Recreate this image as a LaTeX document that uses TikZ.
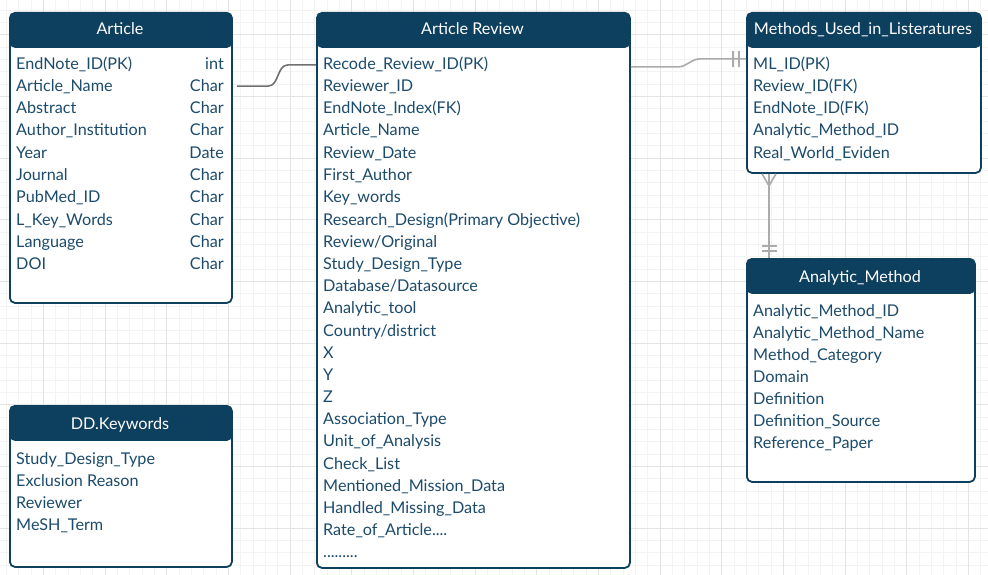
\documentclass[tikz,border=0pt]{standalone}
\usepackage{fontspec}
\setmainfont{Lato}
\usetikzlibrary{positioning,calc}
\definecolor{hdrblue}{HTML}{0D3F5F}
\definecolor{rowblue}{HTML}{1C4B6C}
\definecolor{gridmin}{HTML}{F3F3F3}
\definecolor{gridmaj}{HTML}{E4E4E4}
\definecolor{linkgray}{HTML}{707070}
\definecolor{softgray}{HTML}{ABABAB}

\begin{document}
\begin{tikzpicture}[x=1pt,y=-1pt,
tbl/.style={draw=hdrblue,line width=1.8pt,rounded corners=5pt,fill=white,
  anchor=north west,inner sep=0pt,
  path picture={\fill[hdrblue] (path picture bounding box.north west)
    rectangle ([yshift=-35pt]path picture bounding box.north east);}},
ttl/.style={anchor=base,inner sep=0pt,text=white,font=\fontsize{16.2pt}{19pt}\selectfont},
row/.style={anchor=base west,inner sep=0pt,text=rowblue,font=\fontsize{16.2pt}{19pt}\selectfont},
typ/.style={anchor=base east,inner sep=0pt,text=rowblue,font=\fontsize{16.2pt}{19pt}\selectfont},
link/.style={draw=linkgray,line width=1.6pt},
soft/.style={draw=softgray,line width=1.6pt}]
\useasboundingbox[fill=white] (0,0) rectangle (988,575);
% background grid
\begin{scope}[shift={(-18.15,34.75)}]
\draw[gridmin,line width=0.8pt,step=12.33pt] (-10,600) grid (1020,-40);
\draw[gridmaj,line width=0.9pt,step=61.65pt] (-10,600) grid (1020,-40);
\end{scope}

% Article
\node[tbl,minimum width=222pt,minimum height=290pt] (article) at (9,12) {};
\node[ttl] (articleT) at (120,35) {Article};
\node[row] (a1) at (16,70) {EndNote\_ID(PK)};
\node[row] (a2) at (16,92) {Article\_Name};
\node[row] (a3) at (16,114) {Abstract};
\node[row] (a4) at (16,136) {Author\_Institution};
\node[row] (a5) at (16,158) {Year};
\node[row] (a6) at (16,180) {Journal};
\node[row] (a7) at (16,202) {PubMed\_ID};
\node[row] (a8) at (16,225) {L\_Key\_Words};
\node[row] (a9) at (16,247) {Language};
\node[row] (a10) at (16,269) {DOI};
\node[typ] (a1t) at (224,70) {int};
\node[typ] (a2t) at (224,92) {Char};
\node[typ] (a3t) at (224,114) {Char};
\node[typ] (a4t) at (224,136) {Char};
\node[typ] (a5t) at (224,158) {Date};
\node[typ] (a6t) at (224,180) {Char};
\node[typ] (a7t) at (224,202) {Char};
\node[typ] (a8t) at (224,225) {Char};
\node[typ] (a9t) at (224,247) {Char};
\node[typ] (a10t) at (224,269) {Char};

% Article Review
\node[tbl,minimum width=313pt,minimum height=555pt] (review) at (316,12) {};
\node[ttl] (reviewT) at (472.5,35) {Article Review};
\node[row] (r1) at (323,70) {Recode\_Review\_ID(PK)};
\node[row] (r2) at (323,92) {Reviewer\_ID};
\node[row] (r3) at (323,114) {EndNote\_Index(FK)};
\node[row] (r4) at (323,136) {Article\_Name};
\node[row] (r5) at (323,158) {Review\_Date};
\node[row] (r6) at (323,180) {First\_Author};
\node[row] (r7) at (323,202) {Key\_words};
\node[row] (r8) at (323,225) {Research\_Design(Primary Objective)};
\node[row] (r9) at (323,247) {Review/Original};
\node[row] (r10) at (323,269) {Study\_Design\_Type};
\node[row] (r11) at (323,291) {Database/Datasource};
\node[row] (r12) at (323,313) {Analytic\_tool};
\node[row] (r13) at (323,336) {Country/district};
\node[row] (r14) at (323,358) {X};
\node[row] (r15) at (323,380) {Y};
\node[row] (r16) at (323,402) {Z};
\node[row] (r17) at (323,424) {Association\_Type};
\node[row] (r18) at (323,446) {Unit\_of\_Analysis};
\node[row] (r19) at (323,469) {Check\_List};
\node[row] (r20) at (323,491) {Mentioned\_Mission\_Data};
\node[row] (r21) at (323,513) {Handled\_Missing\_Data};
\node[row] (r22) at (323,535) {Rate\_of\_Article....};
\node[row] (r23) at (323,557) {.........};

% Methods_Used_in_Listeratures
\node[tbl,minimum width=234pt,minimum height=160pt] (methods) at (746,12) {};
\node[ttl] (methodsT) at (863,35) {Methods\_Used\_in\_Listeratures};
\node[row] (m1) at (753,70) {ML\_ID(PK)};
\node[row] (m2) at (753,92) {Review\_ID(FK)};
\node[row] (m3) at (753,114) {EndNote\_ID(FK)};
\node[row] (m4) at (753,136) {Analytic\_Method\_ID};
\node[row] (m5) at (753,158) {Real\_World\_Eviden};

% Analytic_Method
\node[tbl,minimum width=228pt,minimum height=223pt] (analytic) at (746,258) {};
\node[ttl] (analyticT) at (860,282) {Analytic\_Method};
\node[row] (n1) at (753,316) {Analytic\_Method\_ID};
\node[row] (n2) at (753,338) {Analytic\_Method\_Name};
\node[row] (n3) at (753,360) {Method\_Category};
\node[row] (n4) at (753,382) {Domain};
\node[row] (n5) at (753,404) {Definition};
\node[row] (n6) at (753,426) {Definition\_Source};
\node[row] (n7) at (753,448) {Reference\_Paper};

% DD.Keywords
\node[tbl,minimum width=222pt,minimum height=161pt] (keywords) at (9,405) {};
\node[ttl] (keywordsT) at (120,429) {DD.Keywords};
\node[row] (k1) at (16,464) {Study\_Design\_Type};
\node[row] (k2) at (16,486) {Exclusion Reason};
\node[row] (k3) at (16,508) {Reviewer};
\node[row] (k4) at (16,530) {MeSH\_Term};

% relations
\draw[link] ([xshift=13pt]a2t.east) -- ++(31,0) to[out=0,in=180]
  ([xshift=-28pt]review.west |- r1.west) -- (review.west |- r1.west);
\coordinate (mlin) at ([yshift=6pt]methods.west |- m1.west);
\draw[soft] ([yshift=-2pt]review.east |- r1.west) -- ++(47,0) to[out=0,in=180]
  ([xshift=-46pt]mlin) -- (mlin);
\draw[soft] (mlin) ++(-13,-8) -- ++(0,16);
\draw[soft] (mlin) ++(-7,-8) -- ++(0,16);
\coordinate (ftop) at ([xshift=23pt]methods.south west);
\coordinate (fbot) at ([xshift=23pt]analytic.north west);
\draw[soft] (ftop) -- (fbot);
\draw[soft] ([yshift=-12pt]ftop) -- ++(-7,-12);
\draw[soft] ([yshift=-12pt]ftop) -- ++(7,-12);
\draw[soft] (fbot) ++(-7.5,-12) -- ++(15,0);
\draw[soft] (fbot) ++(-7.5,-7) -- ++(15,0);
\end{tikzpicture}
\end{document}
